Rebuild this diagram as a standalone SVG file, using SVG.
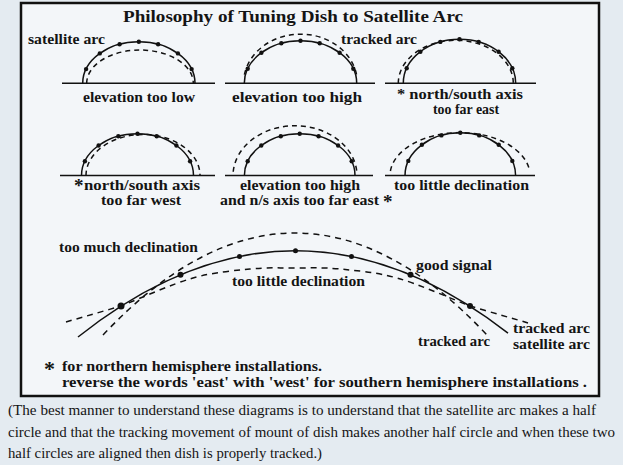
<svg xmlns="http://www.w3.org/2000/svg" width="623" height="465" viewBox="0 0 623 465">
<style>
.lb{font-family:"Liberation Serif","Times New Roman",serif;font-weight:bold;font-size:15px;fill:#141414}
.lb2{font-family:"Liberation Serif","Times New Roman",serif;font-weight:bold;font-size:14px;fill:#141414}
.ttl{font-family:"Liberation Serif","Times New Roman",serif;font-weight:bold;font-size:17.5px;fill:#141414}
.cap{font-family:"Liberation Serif","Times New Roman",serif;font-size:15px;fill:#141414}
.sol{fill:none;stroke:#111;stroke-width:1.5}
.dsh{fill:none;stroke:#111;stroke-width:1.5;stroke-dasharray:5 4}
.dshb{fill:none;stroke:#111;stroke-width:1.5;stroke-dasharray:6 5}
.gnd{fill:none;stroke:#111;stroke-width:1.6}
.dot{fill:#111}
</style>
<rect x="0" y="0" width="623" height="465" fill="#e4ebf1"/>
<rect x="21" y="3" width="578" height="393" fill="#f3f6f9" stroke="#111" stroke-width="2.5"/>
<text class="ttl" x="123" y="22" textLength="340" lengthAdjust="spacingAndGlyphs">Philosophy of Tuning Dish to Satellite Arc</text>

<g id="d1">
<line class="gnd" x1="62" y1="83.3" x2="215" y2="83.3"/>
<path class="sol" d="M82.7,83.3 A56.15,41.6 0 0 1 195,83.3"/>
<path class="dsh" d="M86.7,83.3 A53.3,33.3 0 0 1 193.3,83.3"/>
<g class="dot"><circle cx="86.1" cy="69.1" r="2.2"/><circle cx="99.8" cy="53.4" r="2.2"/><circle cx="119.6" cy="44.2" r="2.2"/><circle cx="138.85" cy="41.7" r="2.2"/><circle cx="158.1" cy="44.2" r="2.2"/><circle cx="177.9" cy="53.4" r="2.2"/><circle cx="191.6" cy="69.1" r="2.2"/></g>
<text class="lb" x="28" y="43.5" textLength="77" lengthAdjust="spacingAndGlyphs">satellite arc</text>
<text class="lb" x="83" y="102" textLength="112" lengthAdjust="spacingAndGlyphs">elevation too low</text>
</g>

<g id="d2">
<line class="gnd" x1="225" y1="83.3" x2="375" y2="83.3"/>
<path class="sol" d="M244.3,83.3 A56.2,42.6 0 0 1 356.7,83.3"/>
<path class="dsh" d="M244.4,74.7 A57,49.3 0 0 1 356.6,74.7"/>
<g class="dot"><circle cx="247.7" cy="68.7" r="2.2"/><circle cx="261.4" cy="52.7" r="2.2"/><circle cx="281.3" cy="43.3" r="2.2"/><circle cx="300.5" cy="40.7" r="2.2"/><circle cx="319.7" cy="43.3" r="2.2"/><circle cx="339.6" cy="52.7" r="2.2"/><circle cx="353.3" cy="68.7" r="2.2"/></g>
<text class="lb" x="341" y="43.5" textLength="76" lengthAdjust="spacingAndGlyphs">tracked arc</text>
<text class="lb" x="232" y="102" textLength="130" lengthAdjust="spacingAndGlyphs">elevation too high</text>
</g>

<g id="d3">
<line class="gnd" x1="385" y1="83.3" x2="536" y2="83.3"/>
<path class="sol" d="M403.3,83.3 A56.2,44 0 0 1 515.7,83.3"/>
<path class="dsh" d="M398.3,83.3 A57.5,43 0 0 1 513.3,83.3"/>
<g class="dot"><circle cx="406.7" cy="68.3" r="2.2"/><circle cx="420.4" cy="51.7" r="2.2"/><circle cx="440.3" cy="41.9" r="2.2"/><circle cx="459.5" cy="39.3" r="2.2"/><circle cx="478.7" cy="41.9" r="2.2"/><circle cx="498.6" cy="51.7" r="2.2"/><circle cx="512.3" cy="68.3" r="2.2"/></g>
<text class="lb2" x="397" y="98.5" textLength="126" lengthAdjust="spacingAndGlyphs">* north/south axis</text>
<text class="lb2" x="433" y="114" textLength="66" lengthAdjust="spacingAndGlyphs">too far east</text>
</g>

<g id="d4">
<line class="gnd" x1="60" y1="175.5" x2="215" y2="175.5"/>
<path class="sol" d="M81.5,175.5 A56,41.7 0 0 1 193.5,175.5"/>
<path class="dsh" d="M86,175.5 A57,41 0 0 1 200,175.5"/>
<g class="dot"><circle cx="84.9" cy="161.2" r="2.2"/><circle cx="98.6" cy="145.5" r="2.2"/><circle cx="118.3" cy="136.3" r="2.2"/><circle cx="137.5" cy="133.8" r="2.2"/><circle cx="156.7" cy="136.3" r="2.2"/><circle cx="176.4" cy="145.5" r="2.2"/><circle cx="190.1" cy="161.2" r="2.2"/></g>
<text class="lb" x="74" y="192" style="font-size:19px">*</text>
<text class="lb2" x="84" y="189.5" textLength="116" lengthAdjust="spacingAndGlyphs">north/south axis</text>
<text class="lb2" x="101" y="205" textLength="80" lengthAdjust="spacingAndGlyphs">too far west</text>
</g>

<g id="d5">
<line class="gnd" x1="225" y1="175.5" x2="373" y2="175.5"/>
<path class="sol" d="M244.4,175.5 A55.3,41.7 0 0 1 355,175.5"/>
<path class="dsh" d="M233.2,171.7 A62,50 0 0 1 356.8,171.7"/>
<g class="dot"><circle cx="247.7" cy="161.2" r="2.2"/><circle cx="261.3" cy="145.5" r="2.2"/><circle cx="280.8" cy="136.3" r="2.2"/><circle cx="299.7" cy="133.8" r="2.2"/><circle cx="318.6" cy="136.3" r="2.2"/><circle cx="338.1" cy="145.5" r="2.2"/><circle cx="351.7" cy="161.2" r="2.2"/></g>
<text class="lb2" x="240" y="189.5" textLength="120" lengthAdjust="spacingAndGlyphs">elevation too high</text>
<text class="lb2" x="220" y="205" textLength="159" lengthAdjust="spacingAndGlyphs">and n/s axis too far east</text>
<text class="lb" x="383" y="208" style="font-size:19px">*</text>
</g>

<g id="d6">
<line class="gnd" x1="385" y1="175.5" x2="535" y2="175.5"/>
<path class="sol" d="M405,175.5 A55.3,42.7 0 0 1 515.6,175.5"/>
<path class="dsh" d="M390.4,171 A70,43 0 0 1 529.6,171"/>
<g class="dot"><circle cx="408.3" cy="160.9" r="2.2"/><circle cx="421.9" cy="144.8" r="2.2"/><circle cx="441.4" cy="135.4" r="2.2"/><circle cx="460.3" cy="132.8" r="2.2"/><circle cx="479.2" cy="135.4" r="2.2"/><circle cx="498.7" cy="144.8" r="2.2"/><circle cx="512.3" cy="160.9" r="2.2"/></g>
<text class="lb" x="394" y="190" textLength="135" lengthAdjust="spacingAndGlyphs">too little declination</text>
</g>

<g id="big">
<path class="sol" d="M78,337 Q293,166.4 508,333.1"/>
<path class="dshb" d="M103,335 Q295,131 487,335"/>
<path class="dshb" d="M66,322 C75.2,319.2 99.8,312.3 121,306 C142.2,297.7 171.5,284 193,278 C214.5,272 233,270.7 250,269 C267,267.3 280,268 295,268 C310,268 323,267.3 340,269 C357,270.7 375.3,272 397,278 C418.7,284 448.2,297.5 470,306 C491.8,312.5 518.3,320 528,323"/>
<g class="dot"><circle cx="121" cy="306" r="3.5"/><circle cx="180.5" cy="274.8" r="3"/><circle cx="239.5" cy="256.4" r="2.5"/><circle cx="295.5" cy="250.7" r="2.5"/><circle cx="351.5" cy="256.4" r="2.5"/><circle cx="410.5" cy="274.8" r="3"/><circle cx="470" cy="306" r="3"/></g>
<text class="lb" x="59" y="252" textLength="139" lengthAdjust="spacingAndGlyphs">too much declination</text>
<text class="lb" x="416" y="270" textLength="76" lengthAdjust="spacingAndGlyphs">good signal</text>
<text class="lb" x="232" y="286" textLength="133" lengthAdjust="spacingAndGlyphs">too little declination</text>
<text class="lb" x="418" y="346" textLength="72" lengthAdjust="spacingAndGlyphs">tracked arc</text>
<text class="lb" x="513" y="333" textLength="77" lengthAdjust="spacingAndGlyphs">tracked arc</text>
<text class="lb" x="513" y="349" textLength="77" lengthAdjust="spacingAndGlyphs">satellite arc</text>
</g>

<g id="notes">
<text class="lb" x="44" y="376" style="font-size:22px">*</text>
<text class="lb" x="62" y="371" textLength="260" lengthAdjust="spacingAndGlyphs">for northern hemisphere installations.</text>
<text class="lb" x="62" y="387" textLength="525" lengthAdjust="spacingAndGlyphs">reverse the words 'east' with 'west' for southern hemisphere installations .</text>
</g>

<g id="caption">
<text class="cap" x="8" y="415" textLength="588" lengthAdjust="spacingAndGlyphs">(The best manner to understand these diagrams is to understand that the satellite arc makes a half</text>
<text class="cap" x="8" y="437" textLength="607" lengthAdjust="spacingAndGlyphs">circle and that the tracking movement of mount of dish makes another half circle and when these two</text>
<text class="cap" x="8" y="458" textLength="314" lengthAdjust="spacingAndGlyphs">half circles are aligned then dish is properly tracked.)</text>
</g>
</svg>
